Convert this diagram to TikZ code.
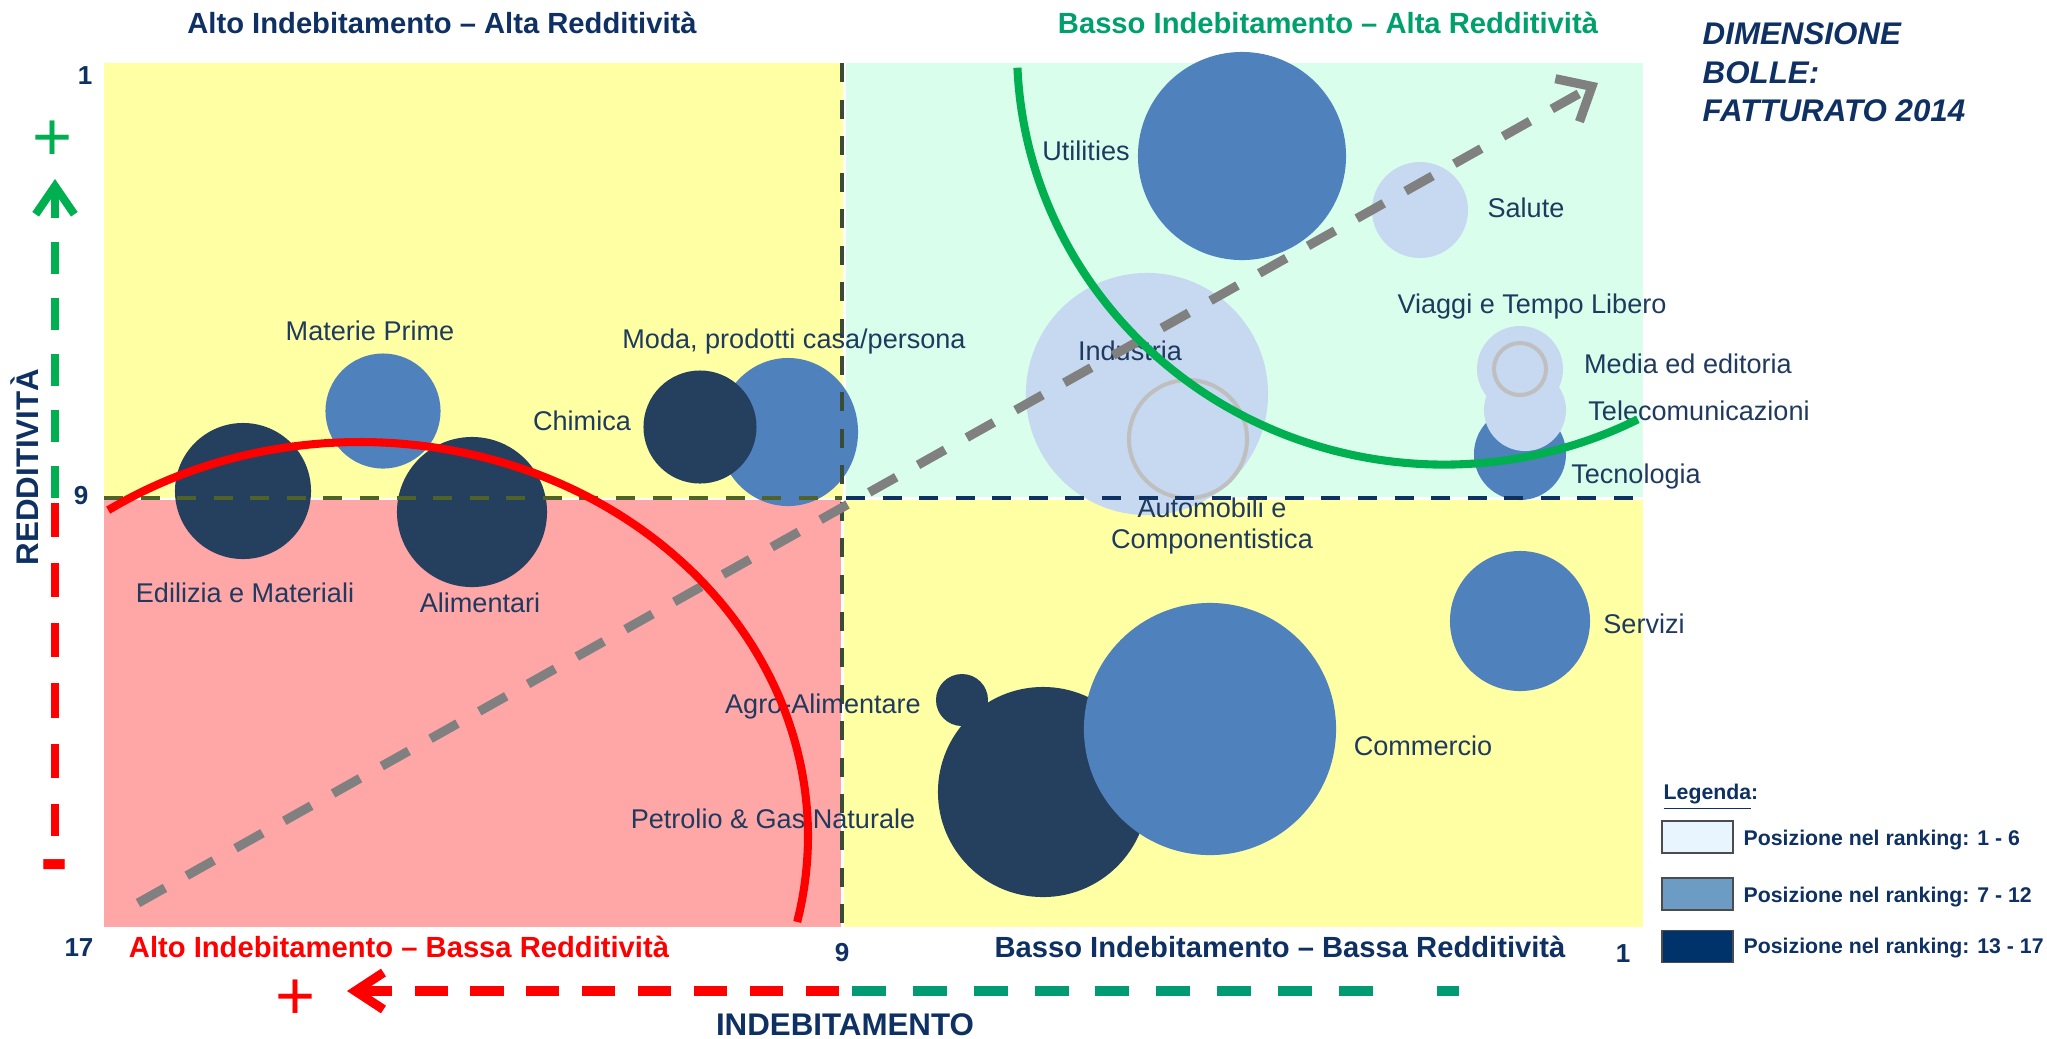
\documentclass[tikz,border=0pt]{standalone}
\usepackage{fontspec}
\setmainfont{Liberation Sans}
\usetikzlibrary{arrows.meta,shapes.geometric}
\definecolor{yellowbg}{HTML}{FFFFA4}
\definecolor{mintbg}{HTML}{D9FEEB}
\definecolor{pinkbg}{HTML}{FFA6A6}
\definecolor{bubdark}{HTML}{25405F}
\definecolor{bubmid}{HTML}{4F81BD}
\definecolor{bublight}{HTML}{C6D9F1}
\definecolor{ringgray}{HTML}{BFBFBF}
\definecolor{navy}{HTML}{0E3063}
\definecolor{lblc}{HTML}{1F3A5F}
\definecolor{ttlteal}{HTML}{00A06C}
\definecolor{tealdash}{HTML}{009A73}
\definecolor{axgreen}{HTML}{00B050}
\definecolor{qolive}{HTML}{4F6228}
\definecolor{vdashc}{HTML}{3A4C38}
\definecolor{garrow}{HTML}{808080}
\definecolor{legone}{HTML}{E8F4FE}
\definecolor{legtwo}{HTML}{6C9BC4}
\definecolor{legthree}{HTML}{00336A}
\tikzset{
  bub/.style={circle, inner sep=0pt, outer sep=0pt},
  bdark/.style={bub, fill=bubdark},
  bmid/.style={bub, fill=bubmid},
  blight/.style={bub, fill=bublight},
  ringst/.style={circle, inner sep=0pt, outer sep=0pt, draw=ringgray, line width=1.15pt},
  lbl/.style={font=\fontsize{7.7}{8.8}\selectfont, text=lblc, inner sep=0pt, anchor=base},
  ttl/.style={font=\fontsize{8.3}{10}\selectfont\bfseries, inner sep=0pt, anchor=base},
  ticknum/.style={font=\fontsize{7.4}{9}\selectfont\bfseries, text=navy, inner sep=0pt, anchor=base},
  axttl/.style={font=\fontsize{8.9}{10.7}\selectfont\bfseries, text=navy, inner sep=0pt, anchor=base},
  legtxt/.style={font=\fontsize{6.05}{7.3}\selectfont\bfseries, text=navy, inner sep=0pt, anchor=base west},
  legbox/.style={draw=black!70, line width=0.4pt, minimum width=0.71cm, minimum height=0.32cm, inner sep=0pt},
  qdash/.style={line width=1.15pt, dash pattern=on 5.4pt off 5pt},
  curvest/.style={line width=2.3pt},
  signst/.style={inner sep=0pt, font=\fontsize{19.5}{19.5}\selectfont},
}
\begin{document}
\begin{tikzpicture}[x=0.01cm,y=-0.01cm]
\useasboundingbox (0,0) rectangle (2047,1038);
% quadrants
\fill[yellowbg] (104,63) rectangle (843,498);
\fill[mintbg] (846,63) rectangle (1643,497);
\fill[pinkbg] (104,500) rectangle (841,927);
\fill[yellowbg] (844,500) rectangle (1643,927);
% bubbles
\node[bmid, minimum size=2.08cm] (utilities) at (1242,156) {};
\node[blight, minimum size=0.96cm] (salute) at (1420,210) {};
\node[blight, minimum size=2.42cm] (industria) at (1147,394) {};
\node[ringst, fill=bublight, minimum size=1.18cm] (automobili) at (1188,439) {};
\node[bmid, minimum size=0.92cm] (tecnologia) at (1520,454) {};
\node[blight, minimum size=0.82cm] (telecom) at (1525,410) {};
\node[blight, minimum size=0.86cm] (viaggi) at (1520,369) {};
\node[ringst, minimum size=0.52cm] (media) at (1520,369) {};
\node[bmid, minimum size=1.15cm] (materie) at (383,411) {};
\node[bdark, minimum size=1.36cm] (edilizia) at (243,491) {};
\node[bdark, minimum size=1.50cm] (alimentari) at (472,512) {};
\node[bmid, ellipse, minimum width=1.40cm, minimum height=1.48cm] (moda) at (788,432) {};
\node[bdark, minimum size=1.13cm] (chimica) at (700,427) {};
\node[bmid, minimum size=1.40cm] (servizi) at (1520,621) {};
\node[bdark, minimum size=0.52cm] (agro) at (962,700) {};
\node[bdark, minimum size=2.10cm] (petrolio) at (1043,792) {};
\node[bmid, minimum size=2.52cm] (commercio) at (1210,729) {};
% quadrant dashed lines
\draw[qdash, qolive] (104,498) -- (842,498);
\draw[qdash, navy] (846,498) -- (1641,498);
\draw[qdash, vdashc] (842,63) -- (842,927);
% bubble labels
\node[lbl] (lutil) at (1086,160) {Utilities};
\node[lbl] (lsal) at (1526,217) {Salute};
\node[lbl] (lvia) at (1532,313) {Viaggi e Tempo Libero};
\node[lbl] (lmed) at (1688,373) {Media ed editoria};
\node[lbl] (ltel) at (1699,420) {Telecomunicazioni};
\node[lbl] (ltec) at (1636,483) {Tecnologia};
\node[lbl] (lind) at (1130,360) {Industria};
\node[lbl, anchor=center, align=center] (laut) at (1212,526) {Automobili e\\Componentistica};
\node[lbl] (lmat) at (370,340) {Materie Prime};
\node[lbl] (lmod) at (794,348) {Moda, prodotti casa/persona};
\node[lbl] (lchi) at (582,430) {Chimica};
\node[lbl] (ledi) at (245,602) {Edilizia e Materiali};
\node[lbl] (lali) at (480,612) {Alimentari};
\node[lbl] (lser) at (1644,633) {Servizi};
\node[lbl] (lagr) at (823,713) {Agro-Alimentare};
\node[lbl] (lcom) at (1423,755) {Commercio};
\node[lbl] (lpet) at (773,828) {Petrolio \& Gas Naturale};
% gray diagonal arrow
\coordinate (gs) at (138,903);
\coordinate (ge) at (1598,83);
\draw[garrow, line width=2.6pt, dash pattern=on 8.8pt off 7.1pt, -{Straight Barb[length=8pt,width=14pt]}] (gs) -- (ge);
% curves
\draw[curvest, red] plot[smooth, domain=235.8:372.6, samples=80] ({360+448*cos(\x)},{836+394*sin(\x)});
\draw[curvest, axgreen] plot[smooth, domain=63:177.5, samples=80] ({1444+427*cos(\x)},{49.6+415*sin(\x)});
% titles
\node[ttl, text=navy] (tTL) at (442,33) {Alto Indebitamento – Alta Redditività};
\node[ttl, text=ttlteal] (tTR) at (1328,33) {Basso Indebitamento – Alta Redditività};
\node[ttl, text=red] (tBL) at (399,957) {Alto Indebitamento – Bassa Redditività};
\node[ttl, text=navy] (tBR) at (1280,957) {Basso Indebitamento – Bassa Redditività};
\node[font=\fontsize{8.9}{10.95}\selectfont\bfseries\itshape, text=navy, align=left, anchor=north west, inner sep=0pt] (dim) at (1702,22) {DIMENSIONE\\BOLLE:\\FATTURATO 2014};
% ticks
\node[ticknum] (ty1) at (85,84) {1};
\node[ticknum] (ty9) at (81,504) {9};
\node[ticknum] (ty17) at (79,956) {17};
\node[ticknum] (tx9) at (842,961) {9};
\node[ticknum] (tx1) at (1623,962) {1};
% axis titles
\node[axttl] (xttl) at (845,1035) {INDEBITAMENTO};
\node[axttl, rotate=90] (yttl) at (38,467) {REDDITIVITÀ};
% vertical axis arrow
\coordinate (vmid) at (55,498);
\coordinate (vtop) at (55,179);
\coordinate (vmid2) at (55,503);
\coordinate (vbot) at (55,836);
\draw[axgreen, line width=2.3pt, dash pattern=on 9.1pt off 6.8pt, -{Straight Barb[length=8pt,width=11pt]}] (vmid) -- (vtop);
\draw[red, line width=2.3pt, dash pattern=on 9.7pt off 7.4pt] (vmid2) -- (vbot);
\node[signst, text=axgreen] (plusG) at (53,141) {+};
\node[signst, text=red, font=\fontsize{24}{24}\selectfont\bfseries] (minusR) at (55,873) {-};
% horizontal axis arrow
\coordinate (hR) at (839,991);
\coordinate (hL) at (347,991);
\coordinate (gL) at (852,991);
\coordinate (gR) at (1374,991);
\coordinate (sqL) at (1437,991);
\coordinate (sqR) at (1459,991);
\draw[red, line width=2.6pt, dash pattern=on 9.4pt off 6.5pt, -{Straight Barb[length=8pt,width=10.5pt]}] (hR) -- (hL);
\draw[tealdash, line width=2.6pt, dash pattern=on 9.7pt off 7.6pt] (gL) -- (gR);
\draw[tealdash, line width=2.6pt] (sqL) -- (sqR);
\node[signst, text=red] (plusR) at (296,1000) {+};
% legend
\node[legtxt] (legT) at (1663,799) {\underline{Legenda}:};
\node[legbox, fill=legone] (box1) at (1697.5,837) {};
\node[legbox, fill=legtwo] (box2) at (1697.5,894) {};
\node[legbox, fill=legthree] (box3) at (1697.5,946.5) {};
\node[legtxt] (leg1) at (1743,845) {Posizione nel ranking: 1 - 6};
\node[legtxt] (leg2) at (1743,902) {Posizione nel ranking: 7 - 12};
\node[legtxt] (leg3) at (1743,953) {Posizione nel ranking: 13 - 17};
\end{tikzpicture}
\end{document}
